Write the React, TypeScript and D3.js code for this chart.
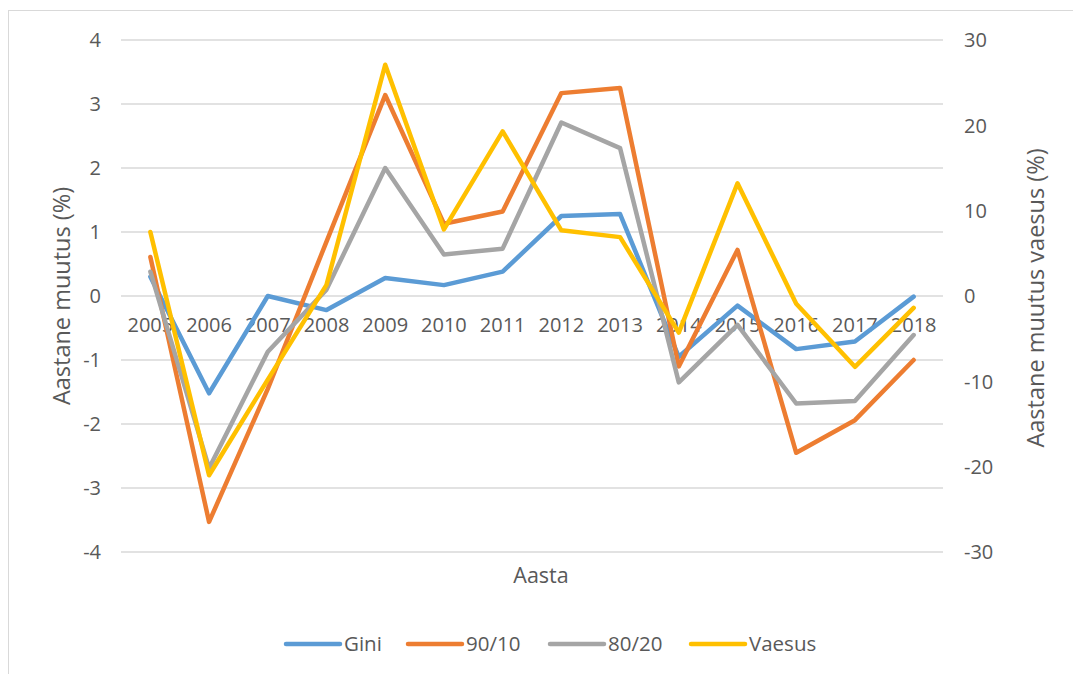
import React, { useEffect, useRef } from 'react';
import * as d3 from 'd3';

const years = ['2005', '2006', '2007', '2008', '2009', '2010', '2011', '2012', '2013', '2014', '2015', '2016', '2017', '2018'];
const gini = [0.3, -1.52, 0.0, -0.22, 0.28, 0.17, 0.38, 1.25, 1.28, -0.95, -0.15, -0.83, -0.71, -0.01];
const p9010 = [0.61, -3.53, -1.45, 0.85, 3.14, 1.13, 1.32, 3.17, 3.25, -1.1, 0.72, -2.45, -1.94, -1.0];
const p8020 = [0.38, -2.69, -0.87, 0.1, 2.0, 0.65, 0.74, 2.71, 2.31, -1.35, -0.45, -1.68, -1.64, -0.61];
const vaesus = [7.5, -21.0, -9.8, 1.3, 27.1, 7.8, 19.3, 7.7, 6.9, -4.3, 13.2, -0.9, -8.3, -1.4];
const leftTicks = [-4, -3, -2, -1, 0, 1, 2, 3, 4];
const rightTicks = [-30, -20, -10, 0, 10, 20, 30];

const seriesNames = ['Gini', '90/10', '80/20', 'Vaesus'];
const seriesColors = ['#5B9BD5', '#ED7D31', '#A5A5A5', '#FFC000'];

const FONT = '"Open Sans", sans-serif';
const TEXT = '#595959';

const drawChart = (node: SVGSVGElement) => {
    const svg = d3.select(node);
    svg.selectAll('*').remove();

    const left = 121, right = 943, top = 40, bottom = 552;

    // outer frame
    svg.append('rect')
        .attr('x', 8.5).attr('y', 10.5)
        .attr('width', 1200).attr('height', 800)
        .attr('fill', 'white').attr('stroke', '#D9D9D9').attr('stroke-width', 1);

    const x = d3.scaleBand().domain(years).range([left, right]);
    const xc = (d: string) => (x(d) as number) + x.bandwidth() / 2;
    const y = d3.scaleLinear().domain([-4, 4]).range([bottom, top]);
    const yR = d3.scaleLinear().domain([-30, 30]).range([bottom, top]);

    // gridlines
    svg.append('g').selectAll('line').data(leftTicks).enter().append('line')
        .attr('x1', left).attr('x2', right)
        .attr('y1', (d) => y(d)).attr('y2', (d) => y(d))
        .attr('stroke', '#D9D9D9').attr('stroke-width', 1.5);

    // left tick labels
    svg.append('g').selectAll('text').data(leftTicks).enter().append('text')
        .attr('x', 101).attr('y', (d) => y(d)).attr('dy', '0.36em')
        .attr('text-anchor', 'end')
        .style('font-family', FONT).style('font-size', '20px').attr('fill', TEXT)
        .text((d) => String(d));

    // right tick labels
    svg.append('g').selectAll('text').data(rightTicks).enter().append('text')
        .attr('x', 964).attr('y', (d) => yR(d)).attr('dy', '0.36em')
        .attr('text-anchor', 'start')
        .style('font-family', FONT).style('font-size', '20px').attr('fill', TEXT)
        .text((d) => String(d));

    // category labels sit on the zero line
    svg.append('g').selectAll('text').data(years).enter().append('text')
        .attr('x', (d) => xc(d)).attr('y', y(0) + 36)
        .attr('text-anchor', 'middle')
        .style('font-family', FONT).style('font-size', '20px').attr('fill', TEXT)
        .text((d) => d);

    // axis titles
    svg.append('text')
        .attr('transform', `translate(70,${(top + bottom) / 2}) rotate(-90)`)
        .attr('text-anchor', 'middle')
        .style('font-family', FONT).style('font-size', '23.5px').attr('fill', TEXT)
        .text('Aastane muutus (%)');
    svg.append('text')
        .attr('transform', `translate(1044,${(top + bottom) / 2 + 2}) rotate(-90)`)
        .attr('text-anchor', 'middle')
        .style('font-family', FONT).style('font-size', '23.5px').attr('fill', TEXT)
        .text('Aastane muutus vaesus (%)');
    svg.append('text')
        .attr('x', 541).attr('y', 583)
        .attr('text-anchor', 'middle')
        .style('font-family', FONT).style('font-size', '21.5px').attr('fill', TEXT)
        .text('Aasta');

    // lines
    const allValues = [gini, p9010, p8020, vaesus];
    allValues.forEach((vals, i) => {
        const sc = i === 3 ? yR : y;
        const line = d3.line<number>()
            .x((_, j) => xc(years[j]))
            .y((v) => sc(v));
        svg.append('path')
            .datum(vals)
            .attr('fill', 'none')
            .attr('stroke', seriesColors[i])
            .attr('stroke-width', 4.5)
            .attr('stroke-linejoin', 'round')
            .attr('stroke-linecap', 'round')
            .attr('d', line);
    });

    // legend
    const legendX = [286, 408, 550, 691];
    const legend = svg.append('g').selectAll('g').data(seriesNames).enter().append('g')
        .attr('transform', (d, i) => `translate(${legendX[i]},644)`);
    legend.append('line')
        .attr('x1', 0).attr('x2', 54).attr('y1', 0).attr('y2', 0)
        .attr('stroke', (d, i) => seriesColors[i]).attr('stroke-width', 4.5)
        .attr('stroke-linecap', 'round');
    legend.append('text')
        .attr('x', 58).attr('y', 0).attr('dy', '0.36em')
        .style('font-family', FONT).style('font-size', '20.5px').attr('fill', TEXT)
        .text((d) => d);
};

const App = () => {
    const ref = useRef<SVGSVGElement>(null);

    useEffect(() => {
        if (ref.current) drawChart(ref.current);
    }, []);

    return (
        <svg ref={ref} width={1073} height={674}
            style={{ position: 'absolute', left: 0, top: 0, background: 'white' }} />
    );
};

export default App;
